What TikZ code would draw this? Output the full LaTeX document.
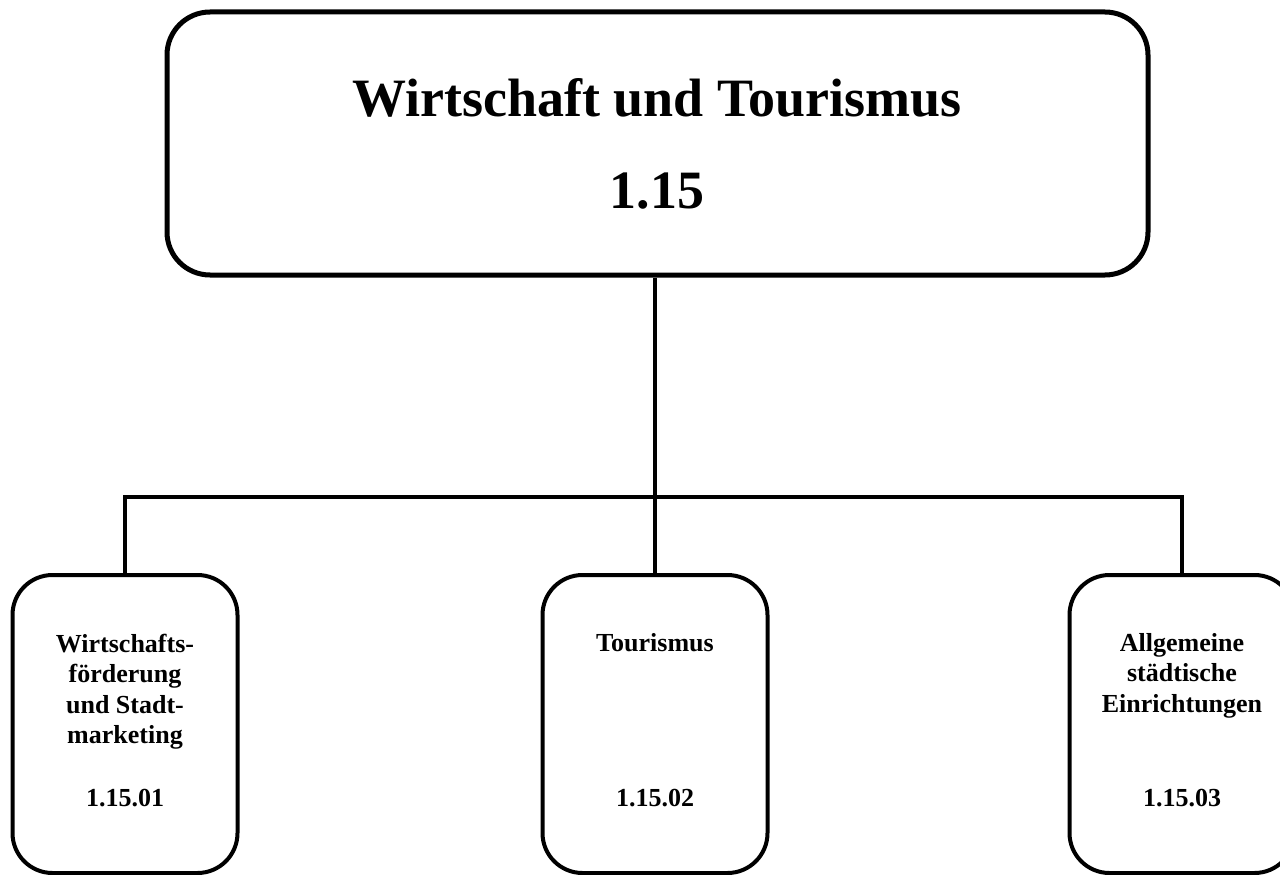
\documentclass[tikz,border=0pt]{standalone}
\usepackage{fontspec}
\setmainfont{Liberation Serif}
\begin{document}
\begin{tikzpicture}[x=1pt,y=-1pt,
  topbox/.style={draw,line width=5pt,rounded corners=43pt,minimum width=981pt,minimum height=263pt,inner sep=0pt},
  subbox/.style={draw,line width=4pt,rounded corners=40pt,minimum width=225pt,minimum height=298pt,inner sep=0pt},
  conn/.style={line width=3.5pt},
  bigtxt/.style={font=\fontsize{54}{60}\selectfont\bfseries,inner sep=0pt,anchor=base},
  subtxt/.style={font=\fontsize{26}{30.5}\selectfont\bfseries,inner sep=0pt,align=center,anchor=base},
]
\useasboundingbox (0,0) rectangle (1280,875);
\node[topbox] (top) at (657.5,143.5) {};
\node[bigtxt] (t1) at (657,117) {Wirtschaft und Tourismus};
\node[bigtxt] (t2) at (657,208) {1.15};

\node[subbox] (b1) at (125,724) {};
\node[subbox] (b2) at (655,724) {};
\node[subbox] (b3) at (1182,724) {};

\node[subtxt] (l1) at (125,743.5) {Wirtschafts-\\förderung\\und Stadt-\\marketing};
\node[subtxt] (n1) at (125,806) {1.15.01};
\node[subtxt] (l2) at (655,651) {Tourismus};
\node[subtxt] (n2) at (655,806) {1.15.02};
\node[subtxt] (l3) at (1182,712) {Allgemeine\\städtische\\Einrichtungen};
\node[subtxt] (n3) at (1182,806) {1.15.03};

\coordinate (bus) at (655,497);
\draw[conn] (b2.north |- top.south) -- (b2.north);
\draw[conn] (b1.north) |- (bus) -| (b3.north);
\end{tikzpicture}
\end{document}
